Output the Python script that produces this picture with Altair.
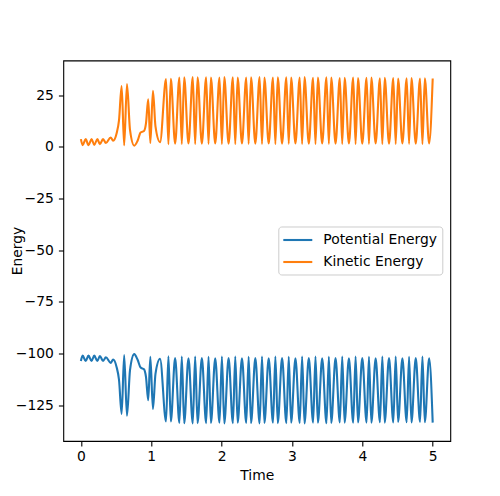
import altair as alt
import pandas as pd

# ---- data ----
time = [
    0.000, 0.025, 0.068, 0.108, 0.152, 0.190, 0.234, 0.270, 0.315, 0.355,
    0.423, 0.458, 0.508, 0.542, 0.579, 0.615, 0.655, 0.698, 0.758, 0.806,
    0.849, 0.897, 0.925, 0.957, 0.987, 1.024, 1.060, 1.125,
    1.210, 1.244, 1.278, 1.339,
    1.400, 1.434, 1.468, 1.529,
    1.590, 1.624, 1.658, 1.719,
    1.780, 1.814, 1.848, 1.909,
    1.970, 2.004, 2.038, 2.099,
    2.160, 2.194, 2.228, 2.289,
    2.350, 2.384, 2.418, 2.479,
    2.540, 2.574, 2.608, 2.669,
    2.730, 2.764, 2.798, 2.859,
    2.920, 2.954, 2.988, 3.049,
    3.110, 3.144, 3.178, 3.239,
    3.300, 3.334, 3.368, 3.429,
    3.490, 3.524, 3.558, 3.619,
    3.680, 3.714, 3.748, 3.809,
    3.870, 3.904, 3.938, 3.999,
    4.060, 4.094, 4.128, 4.189,
    4.250, 4.284, 4.318, 4.379,
    4.440, 4.474, 4.508, 4.569,
    4.630, 4.664, 4.698, 4.759,
    4.820, 4.854, 4.888, 4.949,
    5.000,
]

kinetic = [
    3.7, 0.8, 3.7, 0.8, 3.7, 0.9, 3.7, 1.2, 3.7, 1.8,
    4.5, 2.9, 6.5, 12.9, 29.4, 0.7, 30.3, 8.1, 0.5, 2.9,
    6.9, 7.6, 11.3, 22.9, 1.8, 27.1, 9.8, 2.2,
    32.7, 1.2, 32.8, 1.5,
    33.5, 1.3, 33.6, 1.6,
    33.7, 1.3, 33.6, 1.5,
    33.6, 1.4, 33.5, 1.6,
    33.4, 1.3, 33.7, 1.5,
    33.6, 1.3, 33.4, 1.6,
    33.5, 1.4, 33.6, 1.5,
    33.7, 1.3, 33.5, 1.6,
    33.4, 1.3, 33.6, 1.5,
    33.6, 1.4, 33.4, 1.6,
    33.5, 1.3, 33.7, 1.5,
    33.3, 1.3, 33.4, 1.6,
    33.6, 1.4, 33.5, 1.5,
    33.2, 1.3, 33.3, 1.6,
    33.4, 1.3, 33.2, 1.5,
    33.3, 1.4, 33.4, 1.6,
    33.1, 1.3, 33.3, 1.5,
    33.2, 1.3, 33.0, 1.6,
    33.1, 1.4, 33.2, 1.5,
    33.0, 1.3, 33.1, 1.6,
    33.0,
]

potential = [
    -103.6, -101.0, -103.6, -101.0, -103.6, -101.0, -103.6, -101.2, -103.6, -101.8,
    -104.5, -102.9, -106.6, -112.8, -129.2, -100.7, -130.1, -108.0, -100.3, -103.0,
    -106.8, -107.6, -111.3, -122.6, -101.6, -126.8, -109.8, -102.5,
    -132.8, -101.4, -132.9, -102.2,
    -133.6, -101.5, -133.7, -102.3,
    -133.8, -101.5, -133.7, -102.2,
    -133.7, -101.6, -133.6, -102.3,
    -133.5, -101.5, -133.8, -102.2,
    -133.7, -101.5, -133.5, -102.3,
    -133.6, -101.6, -133.7, -102.2,
    -133.8, -101.5, -133.6, -102.3,
    -133.5, -101.5, -133.7, -102.2,
    -133.7, -101.6, -133.5, -102.3,
    -133.6, -101.5, -133.8, -102.2,
    -133.4, -101.5, -133.5, -102.3,
    -133.7, -101.6, -133.6, -102.2,
    -133.3, -101.5, -133.4, -102.3,
    -133.5, -101.5, -133.3, -102.2,
    -133.4, -101.6, -133.5, -102.3,
    -133.2, -101.5, -133.4, -102.2,
    -133.3, -101.5, -133.1, -102.3,
    -133.2, -101.6, -133.3, -102.2,
    -133.1, -101.5, -133.2, -102.3,
    -133.4,
]

series_names = ["Potential Energy", "Kinetic Energy"]
series_colors = ["#1f77b4", "#ff7f0e"]
x_ticks = [0, 1, 2, 3, 4, 5]
y_ticks = [-125, -100, -75, -50, -25, 0, 25]

df = pd.concat([
    pd.DataFrame({"Time": time, "Energy": potential, "series": series_names[0], "order": 0}),
    pd.DataFrame({"Time": time, "Energy": kinetic, "series": series_names[1], "order": 1}),
], ignore_index=True)

FONT = "DejaVu Sans"
FS = 13.9

chart = alt.Chart(df).mark_line(strokeWidth=2.1, interpolate="monotone", clip=True).encode(
    x=alt.X("Time:Q", scale=alt.Scale(domain=[-0.25, 5.25], nice=False, zero=False),
            axis=alt.Axis(values=x_ticks, format="d", title="Time", titlePadding=5,
                          labelPadding=4)),
    y=alt.Y("Energy:Q", scale=alt.Scale(domain=[-142.3, 41.7], nice=False, zero=False),
            axis=alt.Axis(values=y_ticks, title="Energy",
                          labelExpr="replace(datum.label, '-', '\u2212')",
                          labelPadding=5, titleX=-39, titleY=190)),
    color=alt.Color("series:N",
                    scale=alt.Scale(domain=series_names, range=series_colors),
                    legend=alt.Legend(title=None, orient="none", legendX=215, legendY=166,
                                      symbolType="M-2,0H2", symbolSize=210,
                                      symbolOffset=6, symbolStrokeWidth=2.1,
                                      labelFont=FONT,
                                      labelFontSize=FS, labelColor="black",
                                      labelOffset=17, rowPadding=6,
                                      padding=5, strokeColor="#cccccc",
                                      fillColor="white", cornerRadius=3)),
    order=alt.Order("order:Q"),
    detail="series:N",
).properties(
    width=387,
    height=380.5,
    padding={"left": 55.3, "top": 52.5, "right": 41, "bottom": 43},
    autosize=alt.AutoSizeParams(type="none"),
    background="white",
).configure_view(
    stroke="black", strokeWidth=1.1
).configure_axis(
    grid=False, domain=False,
    tickColor="black", tickSize=4.9, tickWidth=1.1,
    labelFont=FONT, labelFontSize=FS, labelColor="black",
    titleFont=FONT, titleFontSize=FS, titleFontWeight="normal", titleColor="black",
)

chart.save("out.html", embed_options={"renderer": "svg", "actions": False})
